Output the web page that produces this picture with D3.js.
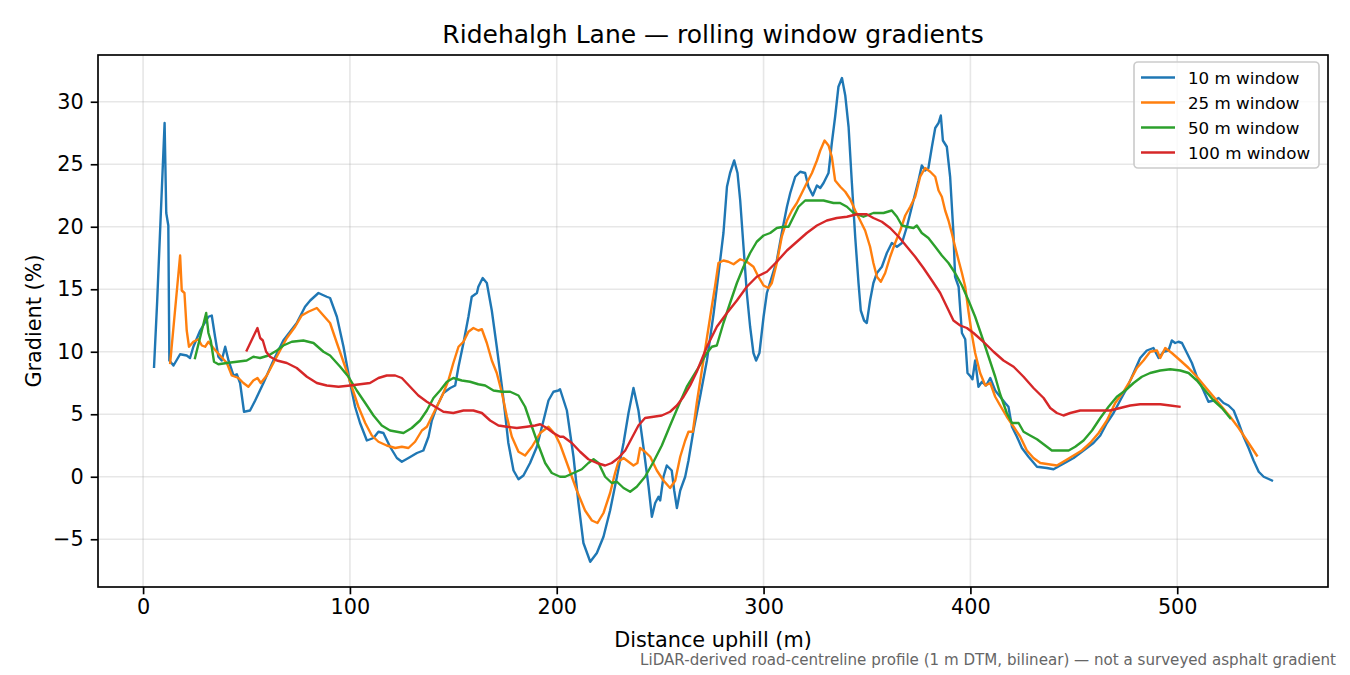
<!DOCTYPE html>
<html>
<head>
<meta charset="utf-8">
<script src="https://d3js.org/d3.v7.min.js"></script>
<style>
  body { margin: 0; background: #fff; }
  svg { display: block; font-family: "DejaVu Sans", sans-serif; }
  .tick text { fill: #000; }
</style>
</head>
<body>
<div id="chart"></div>
<script>
// gradient traces, [distance m, gradient %]
var win10 = [[5.3,8.8],[6.8,14.0],[10.4,28.3],[11.2,21.1],[12.2,20.1],[12.7,9.3],[14.7,8.9],[17.9,9.8],[21.1,9.7],[22.7,9.5],[24.3,10.4],[27.6,11.7],[31.6,12.8],[33.2,12.9],[34.8,11.2],[36.4,9.6],[38.0,9.3],[39.7,10.4],[41.3,9.3],[43.7,8.1],[45.3,8.2],[46.9,7.5],[48.8,5.2],[51.7,5.3],[54.2,6.1],[58.2,7.5],[63.0,9.3],[67.8,10.9],[74.3,12.3],[78.3,13.6],[80.8,14.1],[84.8,14.7],[88.8,14.4],[90.4,14.3],[93.7,12.8],[96.9,10.4],[100.1,7.5],[102.5,5.6],[104.9,4.3],[108.2,2.9],[111.4,3.1],[113.8,3.6],[116.2,3.5],[119.4,2.4],[122.7,1.5],[125.1,1.2],[128.3,1.5],[132.4,1.9],[135.5,2.1],[138.0,3.2],[139.6,4.5],[142.0,5.6],[145.2,6.7],[148.5,7.1],[150.9,7.3],[152.5,8.8],[154.9,10.7],[157.3,12.8],[158.9,14.4],[161.4,14.7],[162.1,15.2],[164.2,15.9],[166.2,15.5],[168.6,13.3],[171.0,10.4],[173.5,7.2],[175.0,5.1],[176.6,2.7],[179.1,0.5],[181.5,-0.2],[183.9,0.1],[187.1,1.1],[190.4,2.4],[193.6,4.5],[196.0,6.1],[198.4,6.8],[200.8,6.9],[201.6,7.0],[204.9,5.3],[208.1,1.6],[210.5,-2.1],[212.9,-5.3],[216.2,-6.8],[219.4,-6.1],[222.6,-4.8],[225.8,-2.7],[229.1,0.0],[232.3,2.7],[234.7,5.1],[237.1,7.1],[239.5,5.3],[241.9,2.4],[244.4,-0.8],[246.0,-3.2],[247.6,-2.1],[249.2,-1.6],[250.0,-1.9],[251.6,0.0],[253.2,0.9],[255.6,0.5],[256.8,-1.1],[258.1,-2.5],[259.7,-1.1],[262.1,0.0],[263.7,1.3],[266.1,3.7],[269.3,6.4],[272.6,9.3],[275.8,13.0],[279.0,17.3],[280.6,19.5],[282.3,23.2],[283.8,24.3],[285.8,25.3],[287.4,24.3],[288.7,22.1],[290.3,18.4],[291.9,14.7],[293.5,12.0],[295.1,9.9],[296.4,9.3],[298.0,9.9],[300.0,12.8],[301.6,14.7],[304.0,16.0],[306.4,17.3],[308.8,19.5],[311.3,21.6],[312.9,22.7],[315.3,24.0],[317.7,24.4],[320.1,24.3],[321.7,23.2],[323.8,22.5],[325.8,23.3],[327.4,23.1],[329.0,23.5],[331.4,24.3],[333.0,26.7],[334.6,28.8],[336.2,31.2],[337.9,31.9],[339.5,30.5],[341.1,28.0],[342.7,23.5],[344.3,19.2],[345.9,15.5],[347.0,13.3],[348.6,12.5],[349.9,12.3],[351.5,14.1],[353.1,15.5],[354.8,16.3],[357.2,16.8],[359.6,17.9],[362.0,18.7],[364.5,18.4],[366.9,18.7],[369.3,20.0],[371.7,21.6],[374.9,23.7],[376.5,24.9],[378.1,24.5],[379.7,24.7],[381.4,26.4],[383.0,27.9],[384.6,28.3],[385.7,28.9],[386.7,26.9],[388.6,26.4],[390.2,24.0],[391.8,19.5],[392.6,16.0],[394.3,15.2],[395.9,11.5],[397.5,11.0],[398.6,8.3],[400.2,8.0],[401.0,7.8],[402.3,9.3],[403.9,7.2],[405.6,7.6],[407.6,7.3],[409.6,7.9],[412.0,6.9],[414.4,6.4],[416.8,5.9],[418.4,5.6],[420.1,4.0],[422.5,3.2],[424.9,2.3],[428.1,1.6],[432.2,0.8],[437.0,0.7],[440.2,0.6],[443.4,0.9],[446.7,1.2],[449.9,1.5],[453.1,1.9],[456.3,2.3],[459.5,2.7],[462.8,3.3],[466.0,4.3],[469.2,5.1],[472.4,6.1],[475.7,7.1],[478.9,8.3],[482.1,9.5],[485.3,10.1],[488.5,10.3],[491.0,9.5],[493.4,10.0],[495.8,10.1],[497.4,10.9],[499.0,10.7],[500.6,10.8],[502.3,10.7],[504.7,9.9],[507.1,9.1],[509.5,8.0],[512.7,6.9],[515.1,6.0],[517.6,6.1],[520.0,6.3],[522.4,5.9],[524.8,5.7],[527.3,5.3],[529.7,4.3],[532.1,3.2],[534.5,2.3],[536.9,1.3],[539.4,0.4],[541.8,0.0],[545.8,-0.3]];

var win25 = [[13.1,9.1],[17.9,17.7],[18.7,14.9],[20.0,14.7],[21.1,11.7],[22.2,10.4],[24.3,10.8],[26.7,11.0],[28.4,10.5],[30.0,10.4],[31.6,10.8],[34.0,10.3],[37.2,9.7],[40.5,9.1],[42.9,8.1],[46.1,7.9],[48.5,7.5],[50.9,7.2],[53.3,7.7],[55.3,7.9],[56.9,7.5],[59.8,8.1],[63.0,9.1],[66.2,10.1],[69.5,11.1],[73.5,12.0],[76.7,12.9],[79.9,13.2],[84.0,13.5],[87.2,12.9],[90.4,12.3],[93.7,10.7],[97.7,8.8],[100.9,7.2],[104.1,5.6],[107.4,4.3],[110.6,3.3],[113.8,2.8],[117.8,2.5],[121.9,2.3],[125.1,2.4],[128.3,2.3],[131.5,2.8],[134.8,3.7],[137.2,4.0],[139.6,4.8],[142.0,5.6],[145.2,6.7],[147.6,7.7],[150.0,9.1],[152.5,10.4],[154.9,10.8],[157.3,11.6],[159.7,11.9],[162.1,11.7],[163.8,11.8],[166.2,10.7],[168.6,9.3],[171.0,8.3],[173.5,6.7],[175.9,4.8],[178.3,3.2],[181.5,2.0],[184.7,1.7],[188.0,2.4],[192.0,3.5],[196.0,4.0],[199.2,3.4],[201.6,2.6],[204.9,1.1],[209.7,-1.1],[213.7,-2.7],[217.0,-3.5],[219.7,-3.7],[222.6,-2.9],[225.8,-1.3],[228.2,0.3],[229.8,1.2],[232.3,1.5],[234.7,1.2],[237.1,0.9],[239.0,1.1],[240.3,2.3],[242.7,2.0],[245.2,1.6],[248.4,0.5],[251.6,-0.3],[254.8,-0.9],[257.3,-0.3],[259.7,1.6],[262.1,2.9],[263.7,3.6],[265.8,3.6],[267.7,5.9],[270.9,9.3],[274.2,12.8],[276.5,15.2],[278.2,17.1],[280.6,17.3],[283.0,17.2],[285.5,17.0],[288.7,17.4],[291.9,17.2],[295.1,16.8],[297.5,16.0],[300.0,15.3],[302.4,15.1],[304.0,15.5],[306.4,17.1],[308.8,19.2],[311.3,20.5],[313.7,21.3],[316.1,21.9],[318.5,22.7],[320.9,23.5],[323.4,24.3],[325.8,25.3],[327.4,26.1],[329.5,26.9],[331.4,26.5],[333.0,25.6],[334.6,23.7],[337.1,23.2],[339.5,22.8],[341.9,22.2],[344.3,21.3],[346.7,20.5],[349.1,19.7],[351.5,18.4],[353.1,17.1],[354.8,16.0],[356.7,15.6],[358.8,16.3],[361.2,17.6],[363.6,18.7],[366.1,19.7],[368.5,20.9],[370.9,21.6],[373.3,22.4],[375.7,24.0],[378.1,24.7],[380.6,24.4],[383.0,24.0],[384.6,22.9],[386.2,22.4],[387.8,21.3],[389.4,20.5],[391.0,19.5],[392.6,18.4],[394.3,17.3],[395.9,16.3],[397.5,15.2],[399.1,13.2],[400.7,11.4],[402.3,9.9],[404.7,8.3],[407.2,7.3],[409.6,7.5],[412.0,6.4],[414.4,5.7],[417.6,4.8],[420.9,4.0],[424.1,3.2],[427.3,2.1],[430.5,1.5],[433.8,1.1],[437.8,1.0],[441.8,0.9],[445.9,1.3],[449.9,1.7],[453.9,2.1],[457.9,2.7],[462.0,3.5],[466.0,4.5],[470.0,5.9],[474.0,6.8],[477.3,7.7],[480.5,8.7],[483.7,9.3],[486.9,10.0],[490.2,10.1],[491.8,9.5],[494.2,10.3],[497.4,9.9],[501.5,9.3],[505.5,8.7],[509.5,8.0],[513.5,7.2],[517.6,6.4],[521.6,5.6],[525.6,4.8],[529.7,3.9],[533.7,2.9],[538.5,1.7]];

var win50 = [[25.1,9.5],[30.5,13.1],[31.6,11.5],[32.7,10.9],[34.3,9.2],[36.4,9.0],[40.5,9.1],[45.3,9.2],[50.1,9.3],[53.3,9.6],[56.6,9.5],[60.6,9.7],[64.7,10.1],[67.8,10.5],[71.9,10.8],[77.5,10.9],[82.4,10.7],[87.2,10.0],[90.4,9.7],[95.3,8.8],[99.3,8.0],[103.3,6.9],[107.4,5.9],[111.4,4.9],[115.4,4.1],[119.4,3.7],[122.7,3.6],[125.9,3.5],[129.9,3.9],[133.9,4.5],[137.2,5.3],[140.4,6.3],[143.6,6.9],[146.9,7.6],[150.0,7.9],[154.1,7.7],[158.1,7.6],[162.1,7.4],[165.4,7.3],[169.4,6.9],[173.5,6.8],[177.5,6.8],[181.5,6.5],[184.7,5.6],[188.0,4.0],[191.2,2.5],[194.4,1.1],[197.6,0.3],[201.6,0.0],[204.1,0.0],[208.1,0.3],[212.1,0.6],[215.3,1.1],[217.8,1.4],[220.2,1.1],[223.4,0.0],[226.6,-0.5],[229.1,-0.4],[232.3,-0.9],[235.5,-1.2],[238.7,-0.8],[242.7,0.0],[246.8,1.2],[250.8,2.5],[254.8,4.1],[258.9,5.7],[262.9,7.2],[267.7,8.5],[272.6,9.9],[275.0,10.4],[277.4,10.5],[280.6,12.3],[283.8,13.9],[287.1,15.5],[290.3,16.8],[293.5,17.9],[296.7,18.8],[300.0,19.3],[303.2,19.5],[306.4,19.9],[309.6,20.0],[312.1,20.0],[314.5,20.8],[316.9,21.6],[320.1,22.1],[324.2,22.1],[329.0,22.1],[333.8,21.9],[337.0,21.9],[340.3,21.6],[343.5,21.1],[348.3,20.8],[353.1,21.1],[358.0,21.1],[362.0,21.3],[364.5,20.8],[366.9,20.1],[369.3,20.0],[372.5,19.9],[374.1,20.1],[376.5,19.5],[379.7,19.1],[383.0,18.4],[386.2,17.7],[389.4,17.1],[392.6,16.3],[395.9,15.3],[399.1,14.1],[402.3,12.8],[405.6,11.2],[408.8,9.6],[412.0,8.0],[414.4,6.6],[417.6,5.1],[420.1,4.3],[423.3,4.3],[425.7,3.6],[428.9,3.3],[432.2,3.0],[436.2,2.5],[439.4,2.1],[443.4,2.1],[447.5,2.1],[450.7,2.4],[454.7,2.9],[458.8,3.7],[462.8,4.7],[466.8,5.6],[470.8,6.4],[474.9,6.9],[478.9,7.5],[482.9,8.0],[486.9,8.3],[491.8,8.5],[496.6,8.6],[501.5,8.5],[505.5,8.3],[509.5,7.7],[513.5,6.9],[517.6,6.1],[521.6,5.5],[525.6,4.7]];

var win100 = [[50.1,10.1],[55.3,11.9],[56.6,11.1],[57.9,10.9],[59.5,10.0],[61.4,9.6],[64.7,9.3],[69.5,9.1],[74.3,8.7],[79.2,8.0],[84.0,7.5],[88.8,7.3],[94.5,7.2],[100.1,7.3],[104.9,7.4],[109.7,7.5],[113.8,7.9],[117.8,8.1],[121.9,8.1],[125.1,7.9],[129.1,7.2],[133.1,6.5],[137.2,6.0],[141.2,5.6],[145.2,5.2],[150.0,5.1],[154.9,5.3],[159.7,5.3],[163.8,5.1],[167.8,4.5],[171.8,4.1],[175.9,4.0],[180.7,3.9],[185.5,4.0],[189.6,4.1],[192.0,4.2],[195.2,3.9],[198.4,3.5],[201.6,3.2],[203.2,3.2],[207.3,2.7],[211.3,2.0],[215.3,1.4],[219.4,1.1],[223.4,0.9],[226.6,1.1],[229.8,1.5],[233.1,2.1],[236.3,3.1],[239.5,4.1],[242.7,4.7],[246.8,4.8],[250.8,4.9],[254.8,5.2],[258.1,5.7],[261.3,6.4],[264.5,7.3],[267.7,8.4],[272.6,10.4],[277.4,12.0],[282.3,13.1],[287.1,14.1],[291.9,15.2],[296.7,16.0],[301.6,16.4],[306.4,17.2],[311.3,18.1],[316.1,18.8],[320.9,19.5],[325.8,20.1],[330.6,20.5],[335.4,20.7],[340.3,20.8],[345.1,21.0],[349.9,21.0],[353.1,20.7],[357.2,20.4],[361.2,19.9],[365.3,19.2],[369.3,18.4],[373.3,17.6],[377.3,16.7],[381.4,15.7],[385.4,14.7],[388.6,13.6],[391.8,12.5],[395.1,12.1],[398.3,11.9],[401.5,11.5],[406.3,10.8],[411.2,10.0],[416.0,9.3],[420.9,8.8],[425.7,8.0],[430.5,7.1],[435.4,6.3],[438.6,5.5],[441.8,5.1],[445.0,4.9],[448.3,5.1],[453.1,5.3],[457.9,5.3],[462.8,5.3],[467.6,5.3],[472.4,5.5],[477.3,5.7],[482.1,5.8],[486.9,5.8],[491.8,5.8],[496.6,5.7],[501.1,5.6]];

var seriesNames = ["10 m window", "25 m window", "50 m window", "100 m window"];
var seriesColors = ["#1f77b4", "#ff7f0e", "#2ca02c", "#d62728"];
var xTicks = [0, 100, 200, 300, 400, 500];
var yTicks = [-5, 0, 5, 10, 15, 20, 25, 30];

var svgWidth = 1350;
var svgHeight = 675;

var margin = {
  top: 55,
  right: 22,
  bottom: 88,
  left: 98
};

var width = svgWidth - margin.left - margin.right;
var height = svgHeight - margin.top - margin.bottom;

var svg = d3.select("#chart")
  .append("svg")
  .attr("width", svgWidth)
  .attr("height", svgHeight);

var chartGroup = svg.append("g")
  .attr("transform", `translate(${margin.left}, ${margin.top})`);

var xScale = d3.scaleLinear()
  .domain([-21.8, 572.9])
  .range([0, width]);

var yScale = d3.scaleLinear()
  .domain([-8.82, 33.74])
  .range([height, 0]);

// grid
chartGroup.append("g")
  .selectAll("line")
  .data(xTicks)
  .enter()
  .append("line")
  .attr("x1", d => xScale(d))
  .attr("x2", d => xScale(d))
  .attr("y1", 0)
  .attr("y2", height)
  .attr("stroke", "#b0b0b0")
  .attr("stroke-opacity", 0.3)
  .attr("stroke-width", 1.6);

chartGroup.append("g")
  .selectAll("line")
  .data(yTicks)
  .enter()
  .append("line")
  .attr("x1", 0)
  .attr("x2", width)
  .attr("y1", d => yScale(d))
  .attr("y2", d => yScale(d))
  .attr("stroke", "#b0b0b0")
  .attr("stroke-opacity", 0.3)
  .attr("stroke-width", 1.6);

var xAxis = d3.axisBottom(xScale)
  .tickValues(xTicks)
  .tickSize(7.3)
  .tickPadding(5)
  .tickFormat(d3.format("d"));

var yAxis = d3.axisLeft(yScale)
  .tickValues(yTicks)
  .tickSize(7.3)
  .tickPadding(7)
  .tickFormat(d => d < 0 ? "\u2212" + Math.abs(d) : String(d));

var xg = chartGroup.append("g")
  .attr("transform", `translate(0, ${height})`)
  .call(xAxis);

var yg = chartGroup.append("g")
  .call(yAxis);

[xg, yg].forEach(function(g) {
  g.select(".domain").remove();
  g.selectAll(".tick line").attr("stroke", "#000").attr("stroke-width", 1.67);
  g.selectAll(".tick text").attr("font-size", "20.8px").attr("font-family", "DejaVu Sans");
});

// lines
var line = d3.line()
  .x(d => xScale(d[0]))
  .y(d => yScale(d[1]));

var allSeries = [win10, win25, win50, win100];

chartGroup.selectAll(".series")
  .data(allSeries)
  .enter()
  .append("path")
  .attr("class", "series")
  .attr("d", d => line(d))
  .attr("fill", "none")
  .attr("stroke", (d, i) => seriesColors[i])
  .attr("stroke-width", 2.4)
  .attr("stroke-linejoin", "round")
  .attr("stroke-linecap", "square");

// frame
chartGroup.append("rect")
  .attr("x", 0)
  .attr("y", 0)
  .attr("width", width)
  .attr("height", height)
  .attr("fill", "none")
  .attr("stroke", "#000")
  .attr("stroke-width", 1.67);

// legend
var legend = chartGroup.append("g")
  .attr("transform", `translate(${width - 194}, 7)`);

legend.append("rect")
  .attr("width", 185)
  .attr("height", 106)
  .attr("rx", 4)
  .attr("fill", "#fff")
  .attr("fill-opacity", 0.8)
  .attr("stroke", "#cccccc")
  .attr("stroke-width", 1.67);

var rows = legend.selectAll(".row")
  .data(seriesNames)
  .enter()
  .append("g")
  .attr("transform", (d, i) => `translate(0, ${15.5 + i * 25})`);

rows.append("line")
  .attr("x1", 7)
  .attr("x2", 41)
  .attr("stroke", (d, i) => seriesColors[i])
  .attr("stroke-width", 2.4);

rows.append("text")
  .attr("x", 54)
  .attr("dy", "0.36em")
  .attr("font-size", "16.7px")
  .text(d => d);

// text
svg.append("text")
  .attr("x", margin.left + width / 2)
  .attr("y", 42.5)
  .attr("text-anchor", "middle")
  .attr("font-size", "25px")
  .text("Ridehalgh Lane \u2014 rolling window gradients");

svg.append("text")
  .attr("x", margin.left + width / 2)
  .attr("y", 647)
  .attr("text-anchor", "middle")
  .attr("font-size", "20.8px")
  .text("Distance uphill (m)");

svg.append("text")
  .attr("transform", `translate(40.5, ${margin.top + height / 2}) rotate(-90)`)
  .attr("text-anchor", "middle")
  .attr("font-size", "20.8px")
  .text("Gradient (%)");

svg.append("text")
  .attr("x", 1336)
  .attr("y", 665)
  .attr("text-anchor", "end")
  .attr("font-size", "15.1px")
  .attr("fill", "#666666")
  .text("LiDAR-derived road-centreline profile (1 m DTM, bilinear) \u2014 not a surveyed asphalt gradient");
</script>
</body>
</html>
